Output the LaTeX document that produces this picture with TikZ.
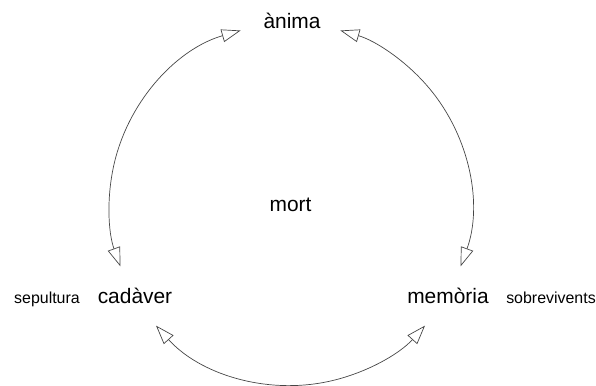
\documentclass[tikz,border=0pt]{standalone}
\usepackage{fontspec}
\setmainfont{Liberation Sans}
\definecolor{arcgray}{RGB}{70,70,70}
\usetikzlibrary{arrows.meta,calc}

\begin{document}
\begin{tikzpicture}[x=1bp, y=1bp,
  big/.style={font=\fontsize{21}{24}\selectfont, anchor=base, inner sep=0pt},
  small/.style={font=\fontsize{16}{19}\selectfont, anchor=base, inner sep=0pt},
  link/.style={draw=arcgray, line width=0.7bp, {Triangle[open, length=19bp, width=13bp]}-{Triangle[open, length=19bp, width=13bp]}}]
\useasboundingbox (0,0) rectangle (596,385);
% Labels
\node[big] (mort) at (290.5,174) {mort};
\coordinate (c) at (290.5,180.5);
\node[big] (anima) at (292,357) {\`anima};
\node[big] (cadaver) at (135,82) {cad\`aver};
\node[big] (memoria) at (448,82) {mem\`oria};
\node[small] (sepultura) at (47,82) {sepultura};
\node[small] (sobrevivents) at (551,82) {sobrevivents};
% Cycle
\coordinate (p1) at ($(c)+(106:181)$);
\coordinate (p2) at ($(c)+(-20:181)$);
\coordinate (p3) at ($(c)+(222:181)$);
\draw[link] (p1) arc[start angle=106, end angle=200, radius=181bp];
\draw[link] (p2) arc[start angle=-20, end angle=74, radius=181bp];
\draw[link] (p3) arc[start angle=222, end angle=318, radius=181bp];
\end{tikzpicture}
\end{document}
